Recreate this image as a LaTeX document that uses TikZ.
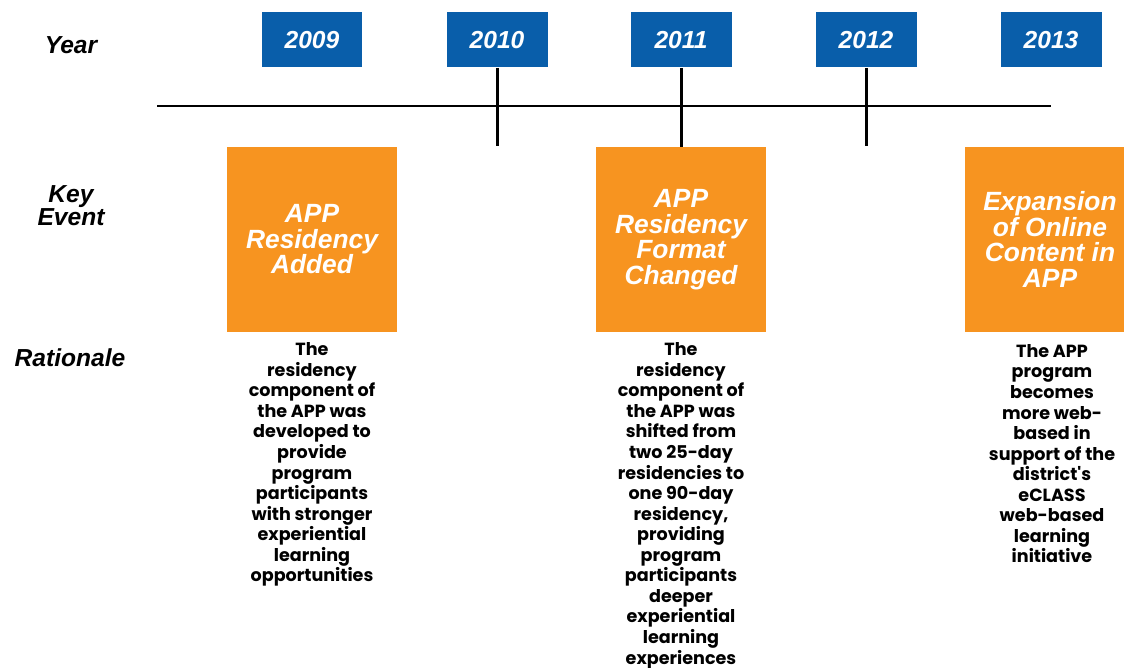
\documentclass[tikz,border=0pt]{standalone}
\usepackage{fontspec}
\setmainfont{Liberation Sans}
\newfontfamily\ratfont{Poppins}
\definecolor{yearblue}{RGB}{9,94,170}
\definecolor{eventorange}{RGB}{247,148,32}
\tikzset{
  yearbox/.style = {fill=yearblue, text=white, minimum width=2.02cm, minimum height=1.1cm,
    font=\fontsize{14}{14}\selectfont\bfseries\itshape},
  eventbox/.style = {fill=eventorange, text=white, minimum width=3.4cm, minimum height=3.7cm,
    align=center, font=\fontsize{15}{14.5}\selectfont\bfseries\itshape},
  rowlabel/.style = {align=center, font=\fontsize{14}{13}\selectfont\bfseries\itshape},
  rationale/.style = {anchor=north, align=center, inner sep=0pt,
    font=\ratfont\fontsize{10}{11.7}\selectfont\bfseries}
}
\begin{document}
\begin{tikzpicture}[x=0.02cm, y=-0.02cm]
\useasboundingbox (0,0) rectangle (1124,668);
\clip (0,0) rectangle (1124,668);
% row labels
\node[rowlabel] (lyear) at (71,45) {Year};
\node[rowlabel] (levent) at (71,206) {Key\\Event};
\node[rowlabel] (lrat) at (70,358) {Rationale};
% years
\node[yearbox] (y2009) at (312,40) {2009};
\node[yearbox] (y2010) at (497,40) {2010};
\node[yearbox] (y2011) at (681,40) {2011};
\node[yearbox] (y2012) at (866,40) {2012};
\node[yearbox] (y2013) at (1051,40) {2013};
% timeline
\coordinate (tlstart) at (157,106);
\coordinate (tlend) at (1051,106);
\coordinate (t2010) at (497,146);
\coordinate (t2012) at (866,146);
\begin{scope}[line width=1.7pt]
\draw (tlstart) -- (tlend);
\draw (y2010.south) -- (t2010);
\draw (y2012.south) -- (t2012);
\end{scope}
% key events
\node[eventbox] (ev2009) at (312,239.5) {APP\\Residency\\Added};
\node[eventbox] (ev2011) at (681,239.5) {APP\\Residency\\Format\\Changed};
\node[eventbox] (ev2013) at (1050,239.5) {Expansion\\of Online\\Content in\\APP};
\draw[line width=1.7pt] (y2011.south) -- (ev2011.north);
% rationale
\node[rationale] (rat2009) at (ev2009.south) [yshift=-0.2cm] {The\\residency\\component of\\the APP was\\developed to\\provide\\program\\participants\\with stronger\\experiential\\learning\\opportunities};
\node[rationale] (rat2011) at (ev2011.south) [yshift=-0.2cm] {The\\residency\\component of\\the APP was\\shifted from\\two 25-day\\residencies to\\one 90-day\\residency,\\providing\\program\\participants\\deeper\\experiential\\learning\\experiences};
\node[rationale] (rat2013) at (1052,334) [yshift=-0.2cm] {The APP\\program\\becomes\\more web-\\based in\\support of the\\district's\\eCLASS\\web-based\\learning\\initiative};
\end{tikzpicture}
\end{document}
